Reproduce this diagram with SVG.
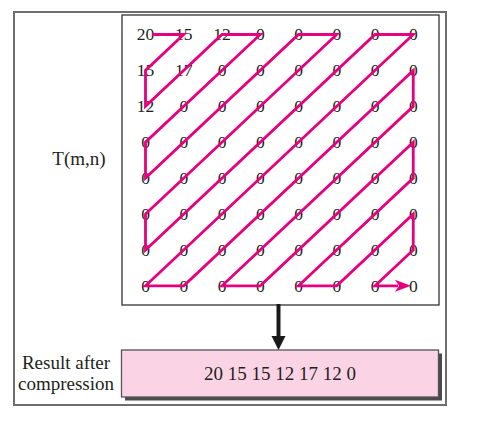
<svg xmlns="http://www.w3.org/2000/svg" width="500" height="429" viewBox="0 0 500 429">
<style>
.d{font-family:"Liberation Serif","Times New Roman",serif;font-size:17.5px;text-anchor:middle;fill:#231f20}
.l{font-family:"Liberation Serif","Times New Roman",serif;font-size:19px;text-anchor:middle;fill:#231f20}
.scan{fill:none;stroke:#e6007e;stroke-width:2.8;stroke-linejoin:miter;stroke-linecap:butt}
</style>
<defs>
<marker id="mag" markerUnits="userSpaceOnUse" markerWidth="16" markerHeight="12" viewBox="0 0 16 12" refX="3" refY="6" orient="auto">
<path d="M0,0 L16,6 L0,12 L4,6 z" fill="#e6007e"/>
</marker>
</defs>
<rect width="500" height="429" fill="#ffffff"/>
<g id="frame">
<rect x="14" y="12" width="432" height="393" fill="none" stroke="#6d6d6d" stroke-width="2"/>
</g>
<g id="matrix">
<rect x="122" y="15" width="317" height="290" fill="none" stroke="#333333" stroke-width="1.3"/>
<g class="d">
<text x="145.5" y="40.4">20</text><text x="183.75" y="40.4">15</text><text x="222" y="40.4">12</text><text x="260.25" y="40.4">0</text><text x="298.5" y="40.4">0</text><text x="336.75" y="40.4">0</text><text x="375" y="40.4">0</text><text x="413.25" y="40.4">0</text>
<text x="145.5" y="76.3">15</text><text x="183.75" y="76.3">17</text><text x="222" y="76.3">0</text><text x="260.25" y="76.3">0</text><text x="298.5" y="76.3">0</text><text x="336.75" y="76.3">0</text><text x="375" y="76.3">0</text><text x="413.25" y="76.3">0</text>
<text x="145.5" y="112.2">12</text><text x="183.75" y="112.2">0</text><text x="222" y="112.2">0</text><text x="260.25" y="112.2">0</text><text x="298.5" y="112.2">0</text><text x="336.75" y="112.2">0</text><text x="375" y="112.2">0</text><text x="413.25" y="112.2">0</text>
<text x="145.5" y="148.1">0</text><text x="183.75" y="148.1">0</text><text x="222" y="148.1">0</text><text x="260.25" y="148.1">0</text><text x="298.5" y="148.1">0</text><text x="336.75" y="148.1">0</text><text x="375" y="148.1">0</text><text x="413.25" y="148.1">0</text>
<text x="145.5" y="184">0</text><text x="183.75" y="184">0</text><text x="222" y="184">0</text><text x="260.25" y="184">0</text><text x="298.5" y="184">0</text><text x="336.75" y="184">0</text><text x="375" y="184">0</text><text x="413.25" y="184">0</text>
<text x="145.5" y="219.9">0</text><text x="183.75" y="219.9">0</text><text x="222" y="219.9">0</text><text x="260.25" y="219.9">0</text><text x="298.5" y="219.9">0</text><text x="336.75" y="219.9">0</text><text x="375" y="219.9">0</text><text x="413.25" y="219.9">0</text>
<text x="145.5" y="255.8">0</text><text x="183.75" y="255.8">0</text><text x="222" y="255.8">0</text><text x="260.25" y="255.8">0</text><text x="298.5" y="255.8">0</text><text x="336.75" y="255.8">0</text><text x="375" y="255.8">0</text><text x="413.25" y="255.8">0</text>
<text x="145.5" y="291.7">0</text><text x="183.75" y="291.7">0</text><text x="222" y="291.7">0</text><text x="260.25" y="291.7">0</text><text x="298.5" y="291.7">0</text><text x="336.75" y="291.7">0</text><text x="375" y="291.7">0</text><text x="413.25" y="291.7">0</text>
</g>
</g>
<g id="label-t">
<text class="l" x="79" y="165">T(m,n)</text>
</g>
<g id="result">
<rect x="125" y="353.5" width="317" height="47" fill="#4a4a4a"/>
<rect x="121.5" y="350" width="317" height="47" fill="#fad4e4" stroke="#555555" stroke-width="1.3"/>
<text class="l" x="280" y="379.5">20 15 15 12 17 12 0</text>
</g>
<g id="label-result">
<text class="l" x="66" y="369">Result after</text>
<text class="l" x="66" y="390">compression</text>
</g>
<g id="connectors">
<polyline class="scan" marker-end="url(#mag)" points="152,34.5 183.75,34.5 145.5,70.4 145.5,106.3 222,34.5 260.25,34.5 145.5,142.2 145.5,178.1 298.5,34.5 336.75,34.5 145.5,214 145.5,249.9 375,34.5 413.25,34.5 145.5,285.8 183.75,285.8 413.25,70.4 413.25,106.3 222,285.8 260.25,285.8 413.25,142.2 413.25,178.1 298.5,285.8 336.75,285.8 413.25,214 413.25,249.9 375,285.8 398,285.8"/>
<line x1="278.5" y1="304" x2="278.5" y2="338" stroke="#1a1a1a" stroke-width="4"/>
<polygon points="271.5,336 285.5,336 278.5,350" fill="#1a1a1a"/>
</g>
</svg>
